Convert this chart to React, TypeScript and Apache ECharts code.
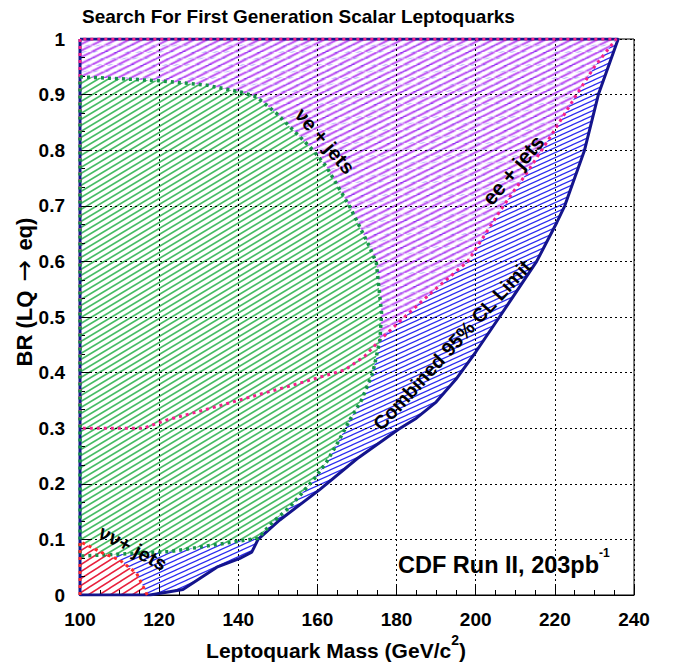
import React, { useEffect, useRef } from "react";
import * as echarts from "echarts";

// ---- Axis ranges / ticks ----
const X_MIN = 100;
const X_MAX = 240;
const X_STEP = 20;
const Y_MIN = 0;
const Y_MAX = 1;
const Y_STEP = 0.1;

// ---- Curves (mass GeV/c^2, BR) ----
const combinedLimit: [number, number][] = [
  [117.7, 0], [126, 0.01], [134.6, 0.05], [140.4, 0.066], [143.4, 0.077],
  [145, 0.1], [150.5, 0.135], [160.5, 0.189], [170, 0.245], [180.5, 0.298],
  [185, 0.318], [190, 0.347], [195, 0.388], [200, 0.437], [206, 0.5],
  [215.4, 0.6], [220.5, 0.67], [222.5, 0.7], [227.5, 0.8], [231, 0.9],
  [233.5, 0.95], [236, 1.0],
];

const eeJets: [number, number][] = [
  [100, 0.3], [116, 0.3], [122, 0.315], [130, 0.33], [140, 0.35],
  [155, 0.38], [167, 0.405], [172, 0.43], [176, 0.46], [182, 0.5],
  [189, 0.545], [198, 0.6], [207, 0.7], [213, 0.76], [218.5, 0.82],
  [225.5, 0.9], [230, 0.95], [235.5, 1.0],
];

const nueJets: [number, number][] = [
  [100, 0.932], [120, 0.925], [132, 0.917], [140.4, 0.905], [144.6, 0.896],
  [149.7, 0.866], [153.9, 0.836], [158.9, 0.8], [162.3, 0.77], [168.2, 0.698],
  [173.2, 0.626], [174.9, 0.597], [176.2, 0.507], [175.8, 0.459], [174, 0.4],
  [171.1, 0.35], [168.2, 0.315], [165.2, 0.275], [162.3, 0.239], [159.3, 0.21],
  [156.3, 0.185], [153, 0.158], [148.7, 0.131], [145, 0.102], [122.7, 0.078],
  [106, 0.072], [100, 0.07],
];

const nunuJets: [number, number][] = [
  [100, 0.096], [105.9, 0.075], [110, 0.063], [114.3, 0.039], [116.8, 0.003], [117, 0],
];

const FONT = "'Liberation Sans', Arial, Helvetica, sans-serif";

function hatch(color: string, angleDeg: number, spacing: number, lw: number) {
  const H = spacing;
  const W = Math.max(2, Math.round(H / Math.tan((angleDeg * Math.PI) / 180)));
  const c = document.createElement("canvas");
  c.width = W;
  c.height = H;
  const ctx = c.getContext("2d")!;
  ctx.fillStyle = "#fff";
  ctx.fillRect(0, 0, W, H);
  ctx.strokeStyle = color;
  ctx.lineWidth = lw;
  for (const off of [-H, 0, H]) {
    ctx.beginPath();
    ctx.moveTo(-W, 2 * H + off);
    ctx.lineTo(2 * W, -H + off);
    ctx.stroke();
  }
  return { image: c.toDataURL(), repeat: "repeat", imageWidth: W, imageHeight: H };
}

function regionSeries(pts: [number, number][], fill: any, z: number) {
  return {
    type: "custom",
    z,
    silent: true,
    clip: true,
    data: [pts[0]],
    renderItem: (_params: any, api: any) => ({
      type: "polygon",
      shape: { points: pts.map((p) => api.coord(p)) },
      style: { fill, stroke: "none" },
    }),
  };
}

function lineSeries(pts: [number, number][], color: string, width: number, type: any, z: number) {
  return {
    type: "line",
    z,
    silent: true,
    data: pts,
    showSymbol: false,
    symbol: "none",
    lineStyle: { color, width, type, cap: "butt" },
  };
}

export default function App() {
  const ref = useRef<HTMLDivElement>(null);
  useEffect(() => {
    if (!ref.current) return;
    const chart = echarts.init(ref.current, null, { renderer: "svg" });

    const blueRegion: [number, number][] = [[X_MIN, 0], ...combinedLimit, [X_MIN, 1]];
    const purpleRegion: [number, number][] = [...eeJets, [X_MIN, 1]];
    const greenRegion: [number, number][] = [...nueJets];
    const redRegion: [number, number][] = [[X_MIN, 0], ...nunuJets];

    const axisLabel = { color: "#000", fontWeight: "bold", fontSize: 19, fontFamily: FONT };

    const option: any = {
      animation: false,
      backgroundColor: "#fff",
      grid: {
        left: 80, right: 44, top: 39, bottom: 67,
        show: true, borderColor: "#000", borderWidth: 1, backgroundColor: "transparent",
      },
      xAxis: {
        type: "value", min: X_MIN, max: X_MAX, interval: X_STEP, z: 3,
        axisLine: { show: true, onZero: false, lineStyle: { color: "#000", width: 1 } },
        axisTick: { show: true, inside: true, length: 10, lineStyle: { color: "#000" } },
        minorTick: { show: true, splitNumber: 4, length: 5, lineStyle: { color: "#000" } },
        splitLine: { show: true, lineStyle: { color: "#000", width: 1, type: [2, 3] } },
        axisLabel: { ...axisLabel, margin: 15 },
      },
      yAxis: {
        type: "value", min: Y_MIN, max: Y_MAX, interval: Y_STEP, z: 3,
        axisLine: { show: true, onZero: false, lineStyle: { color: "#000", width: 1 } },
        axisTick: { show: true, inside: true, length: 10, lineStyle: { color: "#000" } },
        minorTick: { show: true, splitNumber: 3, length: 5, lineStyle: { color: "#000" } },
        splitLine: { show: true, lineStyle: { color: "#000", width: 1, type: [2, 3] } },
        axisLabel: { ...axisLabel, margin: 15, formatter: (v: number) => String(Math.round(v * 10) / 10) },
      },
      series: [
        regionSeries(blueRegion, hatch("#2a2af0", 25, 5, 1.2), 1),
        regionSeries(purpleRegion, hatch("#b030f0", 27, 6.5, 1.7), 1),
        regionSeries(greenRegion, hatch("#47bd66", 30, 6, 1.7), 1),
        regionSeries(redRegion, hatch("#e8203c", 33, 7, 1.5), 1),
        lineSeries([[X_MIN, 1], [X_MIN, 0], ...combinedLimit, [X_MIN, 1]], "#14148c", 3, "solid", 4),
        lineSeries([[X_MIN, 1], ...eeJets, [X_MIN, 1]], "#f5208a", 3, [3, 4], 5),
        lineSeries([...nueJets, nueJets[0]], "#17934a", 3.5, [3, 4], 5),
        lineSeries([[X_MIN, 0], ...nunuJets], "#ff2a2a", 3, [3, 4], 5),
      ],
      graphic: [
        {
          type: "text", x: 82, y: 16, z: 10,
          style: { text: "Search For First Generation Scalar Leptoquarks", fill: "#000", font: `bold 19px ${FONT}`, align: "left", verticalAlign: "middle" },
        },
        {
          type: "text", x: 336, y: 647, z: 10,
          style: {
            text: "{b|Leptoquark Mass (GeV/c}{s|2}{b|)}", align: "center", verticalAlign: "middle",
            rich: {
              b: { fontSize: 21, fontWeight: "bold", fontFamily: FONT, fill: "#000", lineHeight: 28, verticalAlign: "bottom" },
              s: { fontSize: 14, fontWeight: "bold", fontFamily: FONT, fill: "#000", lineHeight: 18, verticalAlign: "top" },
            },
          },
        },
        {
          type: "text", x: 24, y: 292, rotation: Math.PI / 2, z: 10,
          style: {
            text: "{b|BR (LQ }{a|\u2192}{b| eq)}", align: "center", verticalAlign: "middle",
            rich: {
              b: { fontSize: 22, fontWeight: "bold", fontFamily: FONT, fill: "#000", lineHeight: 26 },
              a: { fontSize: 26, fontFamily: "'DejaVu Sans', sans-serif", fill: "#000", lineHeight: 26, padding: [0, 3, 0, 3] },
            },
          },
        },
        {
          type: "text", x: 398, y: 562, z: 10,
          style: {
            text: "{b|CDF Run II, 203pb}{s|-1}", align: "left", verticalAlign: "middle",
            rich: {
              b: { fontSize: 23.5, fontWeight: "bold", fontFamily: FONT, fill: "#000", lineHeight: 30, verticalAlign: "bottom" },
              s: { fontSize: 12, fontWeight: "bold", fontFamily: FONT, fill: "#000", lineHeight: 24, verticalAlign: "top" },
            },
          },
        },
        {
          type: "text", x: 325, y: 141, rotation: (-49 * Math.PI) / 180, z: 10,
          style: { text: "\u03bde + jets", fill: "#000", font: `bold 20px ${FONT}`, align: "center", verticalAlign: "middle" },
        },
        {
          type: "text", x: 513, y: 170, rotation: (50 * Math.PI) / 180, z: 10,
          style: { text: "ee + jets", fill: "#000", font: `bold 21px ${FONT}`, align: "center", verticalAlign: "middle" },
        },
        {
          type: "text", x: 452, y: 345, rotation: (47.5 * Math.PI) / 180, z: 10,
          style: { text: "Combined 95% CL Limit", fill: "#000", font: `bold 19.5px ${FONT}`, align: "center", verticalAlign: "middle" },
        },
        {
          type: "text", x: 133, y: 548, rotation: (-28 * Math.PI) / 180, z: 10,
          style: { text: "\u03bd\u03bd+ jets", fill: "#000", font: `bold 20px ${FONT}`, align: "center", verticalAlign: "middle" },
        },
      ],
    };
    chart.setOption(option);
    return () => chart.dispose();
  }, []);
  return <div ref={ref} style={{ position: "fixed", left: 0, top: 0, width: 678, height: 662 }} />;
}
